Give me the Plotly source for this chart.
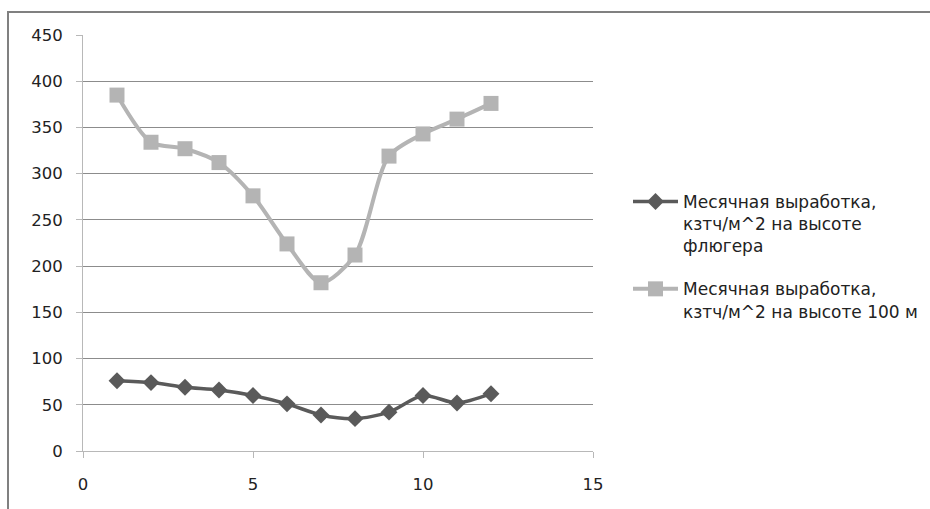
import plotly.graph_objects as go

months = [1, 2, 3, 4, 5, 6, 7, 8, 9, 10, 11, 12]
vane_height = [76, 74, 69, 66, 60, 51, 39, 35, 42, 60, 52, 62]
height_100m = [385, 334, 327, 312, 276, 224, 182, 212, 319, 343, 359, 376]
name_vane = "Месячная выработка,<br>кзтч/м^2 на высоте<br>флюгера"
name_100m = "Месячная выработка,<br>кзтч/м^2 на высоте 100 м"
y_ticks = [0, 50, 100, 150, 200, 250, 300, 350, 400, 450]
x_ticks = [0, 5, 10, 15]

W, H = 930, 509
L, R, T, B = 83, 337, 35, 57.5
pw, ph = W - L - R, H - T - B

fig = go.Figure()
fig.add_trace(go.Scatter(
    x=months, y=vane_height, name=name_vane, mode="lines+markers", legendgroup="a",
    line=dict(color="#5a5a5a", width=3.5, shape="spline", smoothing=0.8),
    marker=dict(symbol="diamond", size=13, color="#5a5a5a"),
))
fig.add_trace(go.Scatter(
    x=months, y=height_100m, name=name_100m, mode="lines+markers", legendgroup="b",
    line=dict(color="#b4b4b4", width=4, shape="spline", smoothing=0.8),
    marker=dict(symbol="square", size=15, color="#b4b4b4"),
))

fig.update_layout(
    width=W, height=H,
    margin=dict(l=L, r=R, t=T, b=B, pad=0),
    paper_bgcolor="white", plot_bgcolor="white",
    font=dict(family="DejaVu Sans", size=15, color="#222222"),
    xaxis=dict(range=[0, 15], tickvals=x_ticks, showgrid=False, zeroline=False,
               showline=True, linecolor="#b8b8b8", linewidth=1,
               ticks="outside", ticklen=6, tickcolor="#b8b8b8",
               tickfont=dict(size=16.5), ticklabelstandoff=12),
    yaxis=dict(range=[0, 450], tickvals=y_ticks, showgrid=True, gridcolor="#8c8c8c",
               gridwidth=1, zeroline=False, showline=True, linecolor="#b8b8b8",
               linewidth=1, ticks="outside", ticklen=6, tickcolor="#b8b8b8",
               tickfont=dict(size=16.5), ticklabelstandoff=10),
    legend=dict(xref="container", yref="container",
                x=628 / W, y=1 - 184 / H, xanchor="left", yanchor="top",
                font=dict(size=17, family="DejaVu Sans"), tracegroupgap=18,
                valign="top", itemwidth=45, bgcolor="rgba(0,0,0,0)"),
    shapes=[dict(type="path", xref="paper", yref="paper",
                 path=f"M {(8 - L) / pw},{(H - B - 520) / ph} L {(8 - L) / pw},{(H - B - 12) / ph} "
                      f"L {(940 - L) / pw},{(H - B - 12) / ph}",
                 line=dict(color="#808080", width=2), layer="below")],
)

fig.write_html("out.html", config={"displayModeBar": False},
               post_script="document.body.style.margin='0';")
